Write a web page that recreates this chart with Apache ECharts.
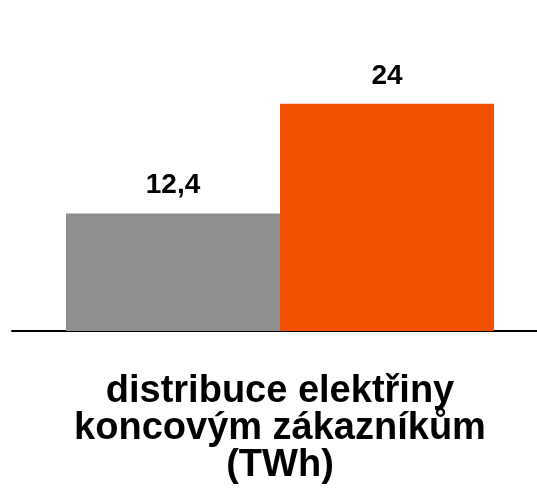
<!DOCTYPE html>
<html>
<head>
<meta charset="utf-8">
<script src="https://cdn.jsdelivr.net/npm/echarts@6/dist/echarts.min.js"></script>
<style>
  html, body { margin: 0; padding: 0; background: #fff; }
  #chart { width: 537px; height: 504px; }
</style>
</head>
<body>
<div id="chart"></div>
<script>
// data
const categories = ["distribuce elektřiny\nkoncovým zákazníkům\n(TWh)"]
const seriesNames = ["A", "B"]
const seriesValues = [[12.4], [24]]
const seriesColors = ["#8e8e8e", "#f05000"]

const font = "Liberation Sans, Arial, sans-serif"
const myChart = echarts.init(document.getElementById("chart"))

const option = {
  animation: false,
  // grid 0: baseline across the full width, grid 1: bars
  grid: [
    { left: 12, right: 0, top: 47, bottom: 173 },
    { left: 23, right: 0, top: 47, bottom: 173 }
  ],
  xAxis: [
    {
      gridIndex: 0,
      type: "category",
      data: categories,
      axisLine: { lineStyle: { color: "#000", width: 2 } },
      axisTick: { show: false },
      axisLabel: { show: false }
    },
    {
      gridIndex: 1,
      type: "category",
      data: categories,
      axisLine: { show: false },
      axisTick: { show: false },
      axisLabel: {
        margin: 42,
        color: "#000",
        fontFamily: font,
        fontWeight: "bold",
        fontSize: 38,
        lineHeight: 37,
        align: "center"
      }
    }
  ],
  yAxis: [
    { gridIndex: 0, type: "value", min: 0, max: 30, show: false },
    { gridIndex: 1, type: "value", min: 0, max: 30, show: false }
  ],
  series: seriesNames.map((name, i) => ({
    name: name,
    type: "bar",
    xAxisIndex: 1,
    yAxisIndex: 1,
    data: seriesValues[i],
    barWidth: 214,
    barGap: "0%",
    itemStyle: { color: seriesColors[i] },
    label: {
      show: true,
      position: "top",
      distance: 14,
      color: "#000",
      fontFamily: font,
      fontWeight: "bold",
      fontSize: 28,
      formatter: (p) => String(p.value).replace(".", ",")
    }
  }))
}

myChart.setOption(option)
</script>
</body>
</html>
